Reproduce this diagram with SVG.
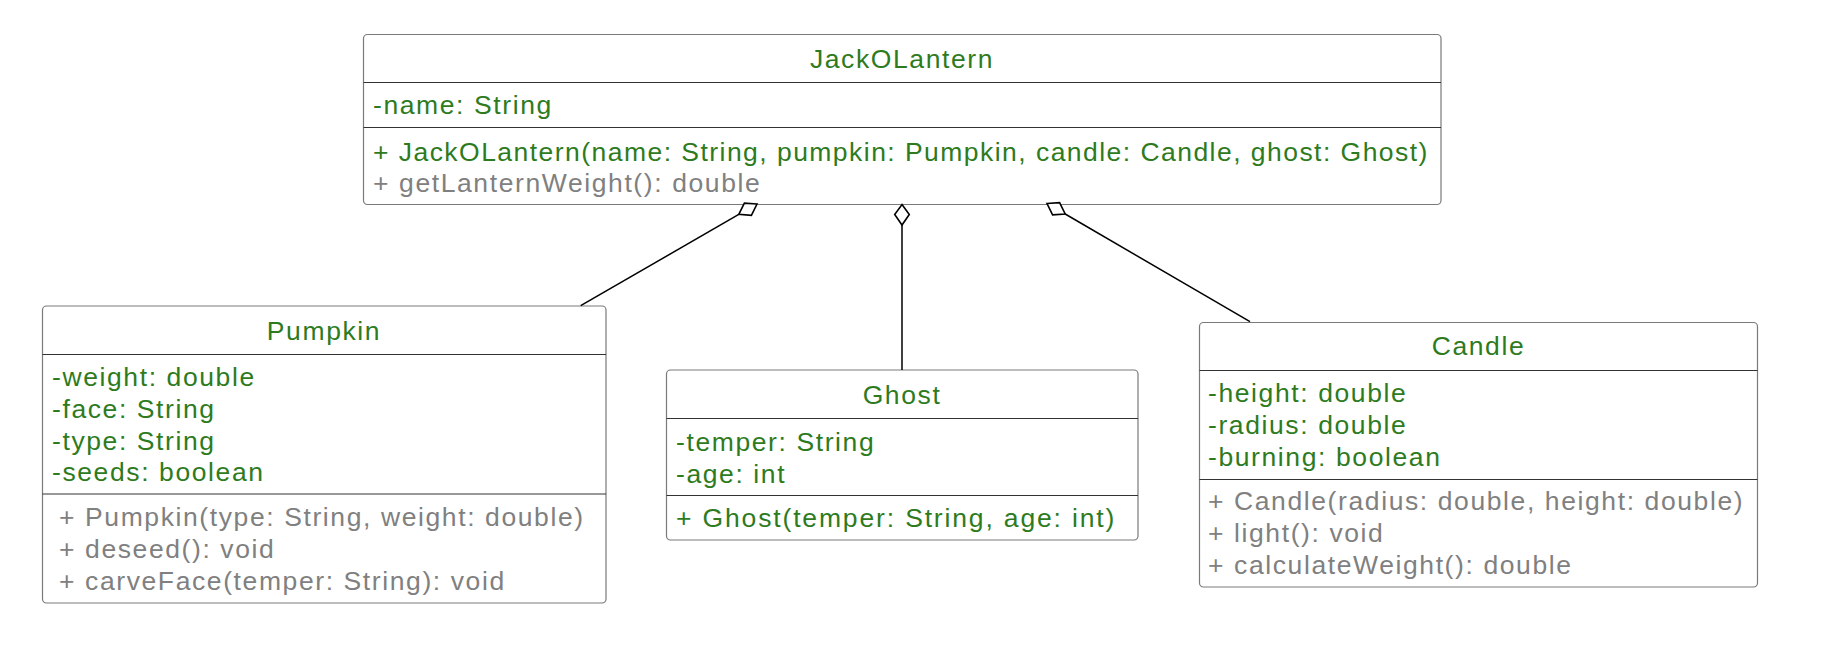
<svg xmlns="http://www.w3.org/2000/svg" width="1846" height="646" viewBox="0 0 1846 646">
<defs>
<style>
.box{fill:#ffffff;stroke:#7a7a7a;stroke-width:1.2}
.div{stroke:#333333;stroke-width:1.2}
text{font-family:"Liberation Sans",Arial,Helvetica,sans-serif;font-size:26.5px;letter-spacing:1.6px}
.t{fill:#2e7b1e;text-anchor:middle}
.g{fill:#2e7b1e}
.m{fill:#808080}
.edge{stroke:#000000;stroke-width:1.5;fill:none}
.dia{fill:#ffffff;stroke:#000000;stroke-width:1.6;stroke-linejoin:miter}
</style>
</defs>
<rect width="1846" height="646" fill="#ffffff"/>
<g id="JackOLantern">
<rect class="box" x="363.5" y="34.5" width="1077.5" height="170" rx="4"/>
<line class="div" x1="363.5" y1="82.5" x2="1441" y2="82.5"/>
<line class="div" x1="363.5" y1="127.5" x2="1441" y2="127.5"/>
<text class="t" x="902" y="68">JackOLantern</text>
<text class="g" x="373" y="114">-name: String</text>
<text class="g" x="373" y="161" textLength="1056" lengthAdjust="spacing">+ JackOLantern(name: String, pumpkin: Pumpkin, candle: Candle, ghost: Ghost)</text>
<text class="m" x="373" y="191.5">+ getLanternWeight(): double</text>
</g>
<g id="Pumpkin">
<rect class="box" x="42.5" y="306" width="563.5" height="297" rx="4"/>
<line class="div" x1="42.5" y1="354.5" x2="606" y2="354.5"/>
<line class="div" x1="42.5" y1="494" x2="606" y2="494"/>
<text class="t" x="324" y="340">Pumpkin</text>
<text class="g" x="52" y="386">-weight: double</text>
<text class="g" x="52" y="418">-face: String</text>
<text class="g" x="52" y="449.5">-type: String</text>
<text class="g" x="52" y="481">-seeds: boolean</text>
<text class="m" x="59" y="526">+ Pumpkin(type: String, weight: double)</text>
<text class="m" x="59" y="558">+ deseed(): void</text>
<text class="m" x="59" y="590">+ carveFace(temper: String): void</text>
</g>
<g id="Ghost">
<rect class="box" x="666.5" y="370" width="471.5" height="170" rx="4"/>
<line class="div" x1="666.5" y1="418.5" x2="1138" y2="418.5"/>
<line class="div" x1="666.5" y1="495.5" x2="1138" y2="495.5"/>
<text class="t" x="902" y="403.5">Ghost</text>
<text class="g" x="676" y="450.5">-temper: String</text>
<text class="g" x="676" y="482.5">-age: int</text>
<text class="g" x="676" y="527" textLength="440" lengthAdjust="spacing">+ Ghost(temper: String, age: int)</text>
</g>
<g id="Candle">
<rect class="box" x="1199.5" y="322.5" width="558" height="264.5" rx="4"/>
<line class="div" x1="1199.5" y1="370.5" x2="1757.5" y2="370.5"/>
<line class="div" x1="1199.5" y1="479.5" x2="1757.5" y2="479.5"/>
<text class="t" x="1478.5" y="355">Candle</text>
<text class="g" x="1208" y="401.5">-height: double</text>
<text class="g" x="1208" y="433.5">-radius: double</text>
<text class="g" x="1208" y="465.5">-burning: boolean</text>
<text class="m" x="1208" y="510">+ Candle(radius: double, height: double)</text>
<text class="m" x="1208" y="541.5">+ light(): void</text>
<text class="m" x="1208" y="573.5">+ calculateWeight(): double</text>
</g>
<g id="connectors">
<line class="edge" x1="738.8" y1="214.4" x2="580.7" y2="305.7"/>
<polygon class="dia" points="757,204 744.4,203.1 738.8,214.4 751.4,215.3"/>
<line class="edge" x1="902" y1="225" x2="902" y2="370"/>
<polygon class="dia" points="902,204.5 909.3,214.5 902,225 894.7,214.5"/>
<line class="edge" x1="1065.2" y1="214" x2="1250" y2="321.7"/>
<polygon class="dia" points="1047,203.5 1059.6,202.7 1065.2,214 1052.6,214.8"/>
</g>
</svg>
